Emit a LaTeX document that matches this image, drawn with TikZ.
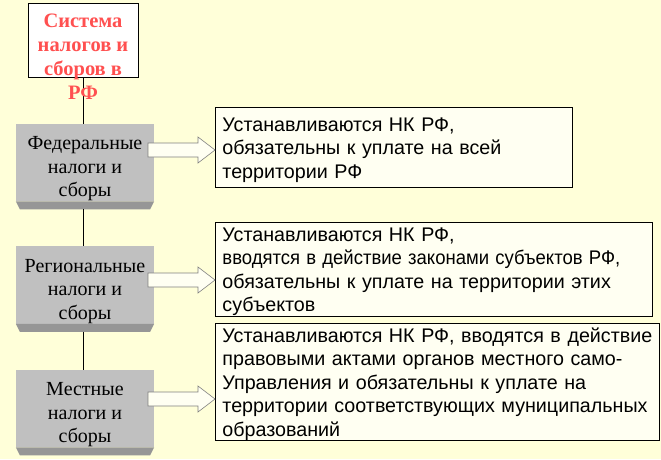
\documentclass[tikz,border=0pt]{standalone}
\usepackage{fontspec}
\usepackage{graphicx}
\setmainfont{Liberation Serif}
\newfontfamily\arialfont{Liberation Sans}
\usetikzlibrary{calc}

\definecolor{bgyellow}{HTML}{FFFFD9}
\definecolor{titlered}{HTML}{FF5050}
\definecolor{faceGray}{HTML}{C0C0C0}
\definecolor{bevelGray}{HTML}{969696}
\definecolor{ivory}{HTML}{FFFFF2}

% extra room above the first line of a gray box
\newcommand{\lift}{\rule{0pt}{26pt}}

\tikzset{
	kindbox/.style={fill=faceGray, minimum width=138pt, inner sep=0pt, align=center,
		font=\fontsize{20}{23.5}\selectfont},
	infobox/.style={draw, fill=ivory, line width=0.9pt, inner xsep=7pt, inner ysep=0pt,
		align=left, font=\arialfont\fontsize{19.7}{23.5}\selectfont,
		execute at begin node={\rule{0pt}{19pt}}},
	fatarrow/.style={draw=gray, fill=ivory, line width=0.6pt},
	trunk/.style={line width=0.9pt}
}

% fat arrow from start point #1 to tip #2
\newcommand{\fatarrow}[2]{%
	\draw[fatarrow] ($(#1)+(0,-7)$) -- ($(#2)+(-17,-7)$) -- ($(#2)+(-17,-13)$) -- (#2)
		-- ($(#2)+(-17,13)$) -- ($(#2)+(-17,7)$) -- ($(#1)+(0,7)$) -- cycle;}

% bevel under a gray box
\newcommand{\bevel}[1]{%
	\fill[bevelGray] (#1.south west) -- (#1.south east) -- ($(#1.south east)+(-4,8)$)
		-- ($(#1.south west)+(4,8)$) -- cycle;}

\begin{document}
\begin{tikzpicture}[x=1pt,y=-1pt]
\fill[bgyellow] (0,0) rectangle (661,459);
\useasboundingbox (0,0) rectangle (661,459);

\node[draw, fill=white, line width=0.9pt, minimum width=110pt, minimum height=74pt] (title) at (83,40) {};

\node[kindbox, minimum height=75pt] (fed) at (85,162.5) {\lift Федеральные\\налоги и\\сборы};
\node[kindbox, minimum height=74pt] (reg) at (85,285) {\lift Региональные\\налоги и\\сборы};
\node[kindbox, minimum height=73pt] (loc) at (85,408.5) {\lift Местные\\налоги и\\сборы};
\bevel{fed}
\bevel{reg}
\bevel{loc}

% trunk
\coordinate (fedbot) at ($(fed.south)+(-2,8)$);
\coordinate (regbot) at ($(reg.south)+(-2,8)$);
\draw[trunk] (title.south) -- (title.south |- fed.north);
\draw[trunk] (fedbot) -- (fedbot |- reg.north);
\draw[trunk] (regbot) -- (regbot |- loc.north);

\node[font=\bfseries\fontsize{20.5}{24}\selectfont, text=titlered, align=center] (titletxt) at (83,56.5)
	{Система\\налогов и\\сборов в\\РФ};

% text boxes
\node[infobox, text width=343pt, minimum height=80pt, anchor=north west] (fedtxt) at (215,107)
	{Устанавливаются НК РФ,\\обязательны к уплате на всей\\территории РФ};
\node[infobox, text width=423pt, minimum height=89pt, anchor=north west] (regtxt) at (215,222)
	{Устанавливаются НК РФ,\\\scalebox{0.94}[1]{вводятся в действие законами субъектов РФ,}\\обязательны к уплате на территории этих\\субъектов};
\node[infobox, text width=430pt, minimum height=114pt, anchor=north west] (loctxt) at (215,323)
	{Устанавливаются НК РФ, вводятся в действие\\правовыми актами органов местного само-\\Управления и обязательны к уплате на\\территории соответствующих муниципальных\\образований};

% arrows
\coordinate (fedarr) at (148,150);
\coordinate (regarr) at (148,280);
\coordinate (locarr) at (148,399);
\coordinate (fedtip) at (fedarr -| fedtxt.west);
\coordinate (regtip) at (regarr -| regtxt.west);
\coordinate (loctip) at (locarr -| loctxt.west);
\fatarrow{fedarr}{fedtip}
\fatarrow{regarr}{regtip}
\fatarrow{locarr}{loctip}
\end{tikzpicture}
\end{document}
